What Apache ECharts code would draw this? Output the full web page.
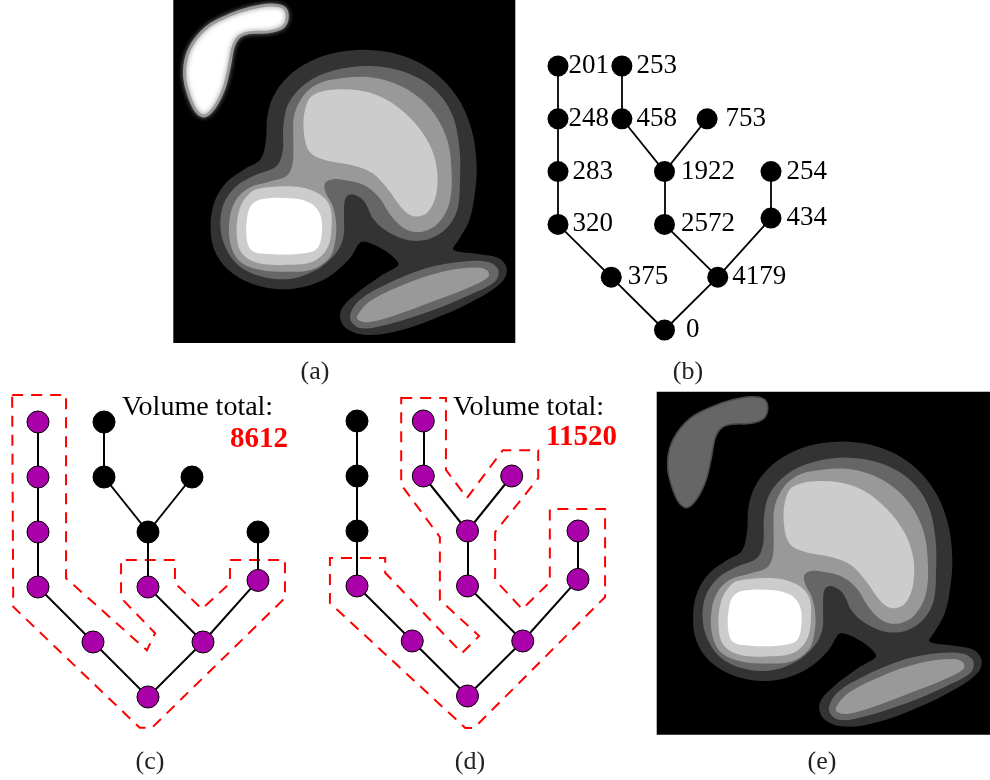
<!DOCTYPE html>
<html><head><meta charset="utf-8">
<script src="https://cdn.jsdelivr.net/npm/echarts@6/dist/echarts.min.js"></script>
<style>html,body{margin:0;padding:0;background:#fff}#c{width:990px;height:780px}</style>
</head><body><div id="c"></div>
<script>
// ---------- tree data ----------
const nodeValues = [0, 375, 4179, 320, 283, 248, 201, 2572, 1922, 458, 253, 753, 434, 254];
const nodeColumn = [2, 1, 3, 0, 0, 0, 0, 2, 2, 1.2, 1.2, 2.8, 4, 4];
const nodeLevel  = [5, 4, 4, 3, 2, 1, 0, 3, 2, 1, 0, 1, 2.88, 2];
const edgeFrom   = [0, 0, 1, 3, 4, 5, 2, 7, 8, 9, 8, 2, 12];
const edgeTo     = [1, 2, 3, 4, 5, 6, 7, 8, 9, 10, 11, 12, 13];
const selectedC  = [1, 1, 1, 1, 1, 1, 1, 1, 0, 0, 0, 0, 1, 0];
const selectedD  = [1, 1, 1, 1, 0, 0, 0, 1, 1, 1, 1, 1, 1, 1];
const hullC = [[-0.47,-0.49],[0.51,-0.49],[0.51,2.84],[1.98,4.15],[2.13,3.84],[1.51,3.2],[1.51,2.51],[2.49,2.51],[2.49,2.93],[2.98,3.4],[3.49,2.93],[3.49,2.51],[4.49,2.51],[4.49,3.2],[2.07,5.56],[1.85,5.56],[-0.45,3.36]];
const hullD = [[0.8,-0.42],[1.61,-0.42],[1.61,0.89],[1.99,1.4],[2.64,0.53],[3.28,0.53],[3.28,1.04],[2.5,2.02],[2.5,2.89],[2.99,3.42],[3.49,2.93],[3.49,1.6],[4.49,1.6],[4.49,3.2],[2.12,5.58],[1.96,5.58],[-0.49,3.31],[-0.49,2.49],[0.51,2.49],[0.51,2.76],[1.9,4.22],[2.21,3.91],[1.5,3.25],[1.5,2.11],[0.8,1.16]];
const panelLabels = ['(a)', '(b)', '(c)', '(d)', '(e)'];
const volumeTitle = 'Volume total:';

// ---------- image contour data (image units) ----------
const contourOuter = [[600,150],[700,168],[790,215],[862,292],[905,390],[920,500],[912,600],[895,670],[865,722],[850,750],[920,762],[985,775],[1010,805],[1000,842],[935,890],[810,950],[680,995],[580,1005],[522,980],[512,935],[555,885],[630,830],[685,790],[580,725],[538,778],[478,830],[400,862],[320,868],[240,850],[172,808],[132,748],[122,672],[135,602],[172,545],[228,505],[272,478],[288,420],[292,350],[310,290],[352,232],[420,185],[500,158]];
const contourMid = [[600,198],[700,215],[790,265],[845,340],[868,440],[870,540],[862,630],[830,685],[780,717],[720,722],[660,700],[612,660],[582,604],[550,584],[528,592],[522,640],[522,700],[510,742],[482,778],[440,810],[370,836],[290,834],[220,808],[175,760],[152,690],[160,615],[198,560],[258,525],[318,500],[338,455],[340,380],[356,310],[408,250],[490,212]];
const ellipseMid = [[540,955],[565,905],[640,858],[770,805],[880,785],[955,787],[985,810],[975,845],[900,885],[780,935],[650,975],[570,985]];
const contourInner = [[480,240],[600,232],[700,262],[780,325],[830,415],[845,520],[838,610],[805,670],[760,695],[710,690],[665,650],[625,590],[580,555],[530,542],[490,538],[465,550],[468,580],[487,615],[498,665],[496,722],[478,775],[425,810],[350,816],[270,810],[210,785],[182,735],[178,665],[195,605],[235,565],[300,545],[350,528],[368,490],[370,420],[372,350],[395,295],[430,260]];
const ellipseInner = [[562,948],[600,905],[700,855],[820,815],[920,803],[952,812],[955,832],[900,862],[790,905],[680,945],[600,967],[565,962]];
const upperLobeCore = [[430,285],[520,268],[620,285],[700,335],[765,410],[798,490],[800,575],[775,635],[735,650],[700,630],[655,570],[610,522],[550,497],[470,482],[420,457],[402,400],[405,330]];
const leftLobeRing = [[260,568],[370,560],[440,578],[478,615],[485,680],[472,745],[430,785],[350,795],[265,790],[215,760],[200,700],[208,630],[230,590]];
const leftLobeCore = [[275,598],[370,596],[425,612],[452,648],[455,705],[440,748],[390,762],[300,763],[245,752],[230,715],[232,650],[245,615]];
const topBlob = [[300,15],[340,22],[352,48],[340,80],[300,95],[240,98],[208,110],[190,140],[178,200],[162,265],[135,320],[105,348],[80,335],[58,290],[44,230],[50,170],[75,120],[120,75],[180,45],[240,25]];

// ---------- build ----------
const chart = echarts.init(document.getElementById('c'), null, {renderer: 'canvas'});
const SERIF = '"Liberation Serif", "Times New Roman", serif';
const labelGap = [11, 6, 4, 4, 4, 0, 0, 6, 6, 4, 4, 8, 5, 5];

function imageLayers(blobStyle) {
  return [
    {pts: contourOuter, style: {fill: '#333333'}},
    {pts: contourMid, style: {fill: '#666666'}},
    {pts: ellipseMid, style: {fill: '#666666'}},
    {pts: contourInner, style: {fill: '#999999'}},
    {pts: ellipseInner, style: {fill: '#999999'}},
    {pts: upperLobeCore, style: {fill: '#cccccc'}},
    {pts: leftLobeRing, style: {fill: '#cccccc'}},
    {pts: leftLobeCore, style: {fill: '#ffffff'}},
    {pts: topBlob, style: blobStyle}
  ];
}
function imageSeries(idx, blobStyle) {
  const layers = imageLayers(blobStyle);
  return {
    type: 'custom', coordinateSystem: 'cartesian2d', xAxisIndex: idx, yAxisIndex: idx,
    silent: true, clip: true,
    data: layers.map((l, i) => [i, 0]),
    renderItem: (params, api) => {
      const L = layers[params.dataIndex];
      return {type: 'polygon', shape: {points: L.pts.map(p => api.coord(p)), smooth: 0.35}, style: Object.assign({}, L.style)};
    }
  };
}
function treeSeries(idx, opts) {
  return {
    type: 'graph', coordinateSystem: 'cartesian2d', xAxisIndex: idx, yAxisIndex: idx,
    silent: true, symbol: 'circle', symbolSize: opts.size,
    data: nodeValues.map((v, i) => ({
      name: String(v), value: [nodeColumn[i], nodeLevel[i]],
      itemStyle: {color: opts.sel && opts.sel[i] ? '#aa00aa' : '#000000', borderColor: '#000', borderWidth: opts.border},
      label: {show: !!opts.labels, position: 'right', distance: labelGap[i], formatter: String(v),
               fontFamily: SERIF, fontSize: 27, color: '#000'}
    })),
    links: edgeFrom.map((s, i) => ({source: s, target: edgeTo[i]})),
    lineStyle: {color: '#000', width: opts.lw, opacity: 1, curveness: 0},
    z: 3
  };
}
function hullSeries(idx, pts) {
  return {
    type: 'custom', coordinateSystem: 'cartesian2d', xAxisIndex: idx, yAxisIndex: idx,
    silent: true, clip: false, z: 1,
    data: [[0, 0]],
    renderItem: (params, api) => ({
      type: 'polygon', shape: {points: pts.map(p => api.coord(p))},
      style: {fill: null, stroke: '#ff0000', lineWidth: 2, lineDash: [11, 8]}
    })
  };
}
const totalOf = sel => nodeValues.reduce((s, v, i) => s + (sel[i] ? v : 0), 0);

const grids = [
  {left: 173.3, top: 0, width: 342, height: 343, show: true, backgroundColor: '#000', borderWidth: 0},
  {left: 558, top: 66, width: 213, height: 264},
  {left: 38, top: 422, width: 220, height: 275},
  {left: 357, top: 421, width: 221, height: 275},
  {left: 656.7, top: 391.7, width: 342, height: 343, show: true, backgroundColor: '#000', borderWidth: 0}
];
const imgX = {min: 10, max: 1036}, imgY = {min: 0, max: 1030};
const xAxes = grids.map((g, i) => Object.assign({type: 'value', gridIndex: i, show: false, scale: false},
  (i === 0 || i === 4) ? imgX : {min: 0, max: 4}));
const yAxes = grids.map((g, i) => Object.assign({type: 'value', gridIndex: i, show: false, inverse: true},
  (i === 0 || i === 4) ? imgY : {min: 0, max: 5}));

const labelPos = [[315, 372], [688, 372], [150, 762], [470, 762], [822, 762]];
const graphics = panelLabels.map((t, i) => ({
  type: 'text', x: labelPos[i][0], y: labelPos[i][1],
  style: {text: t, font: '26px ' + SERIF, fill: '#222', align: 'center', verticalAlign: 'middle'}
}));
graphics.push(
  {type: 'text', x: 122, y: 408, style: {text: volumeTitle, font: '28px ' + SERIF, fill: '#000', verticalAlign: 'middle'}},
  {type: 'text', x: 288, y: 440, style: {text: String(totalOf(selectedC)), font: 'bold 29px ' + SERIF, fill: '#ff0000', align: 'right', verticalAlign: 'middle'}},
  {type: 'text', x: 453, y: 408, style: {text: volumeTitle, font: '28px ' + SERIF, fill: '#000', verticalAlign: 'middle'}},
  {type: 'text', x: 617, y: 438, style: {text: String(totalOf(selectedD)), font: 'bold 29px ' + SERIF, fill: '#ff0000', align: 'right', verticalAlign: 'middle'}}
);

chart.setOption({
  animation: false,
  backgroundColor: '#fff',
  grid: grids, xAxis: xAxes, yAxis: yAxes,
  series: [
    imageSeries(0, {fill: '#ffffff', stroke: '#9a9a9a', lineWidth: 3, shadowBlur: 5, shadowColor: 'rgba(120,120,120,0.9)'}),
    treeSeries(1, {size: 21, lw: 1.8, border: 0, labels: true}),
    hullSeries(2, hullC),
    treeSeries(2, {size: 22, lw: 2, border: 1, sel: selectedC}),
    hullSeries(3, hullD),
    treeSeries(3, {size: 22, lw: 2, border: 1, sel: selectedD}),
    imageSeries(4, {fill: '#666666', stroke: '#4a4a4a', lineWidth: 1.5})
  ],
  graphic: graphics
});
</script></body></html>
